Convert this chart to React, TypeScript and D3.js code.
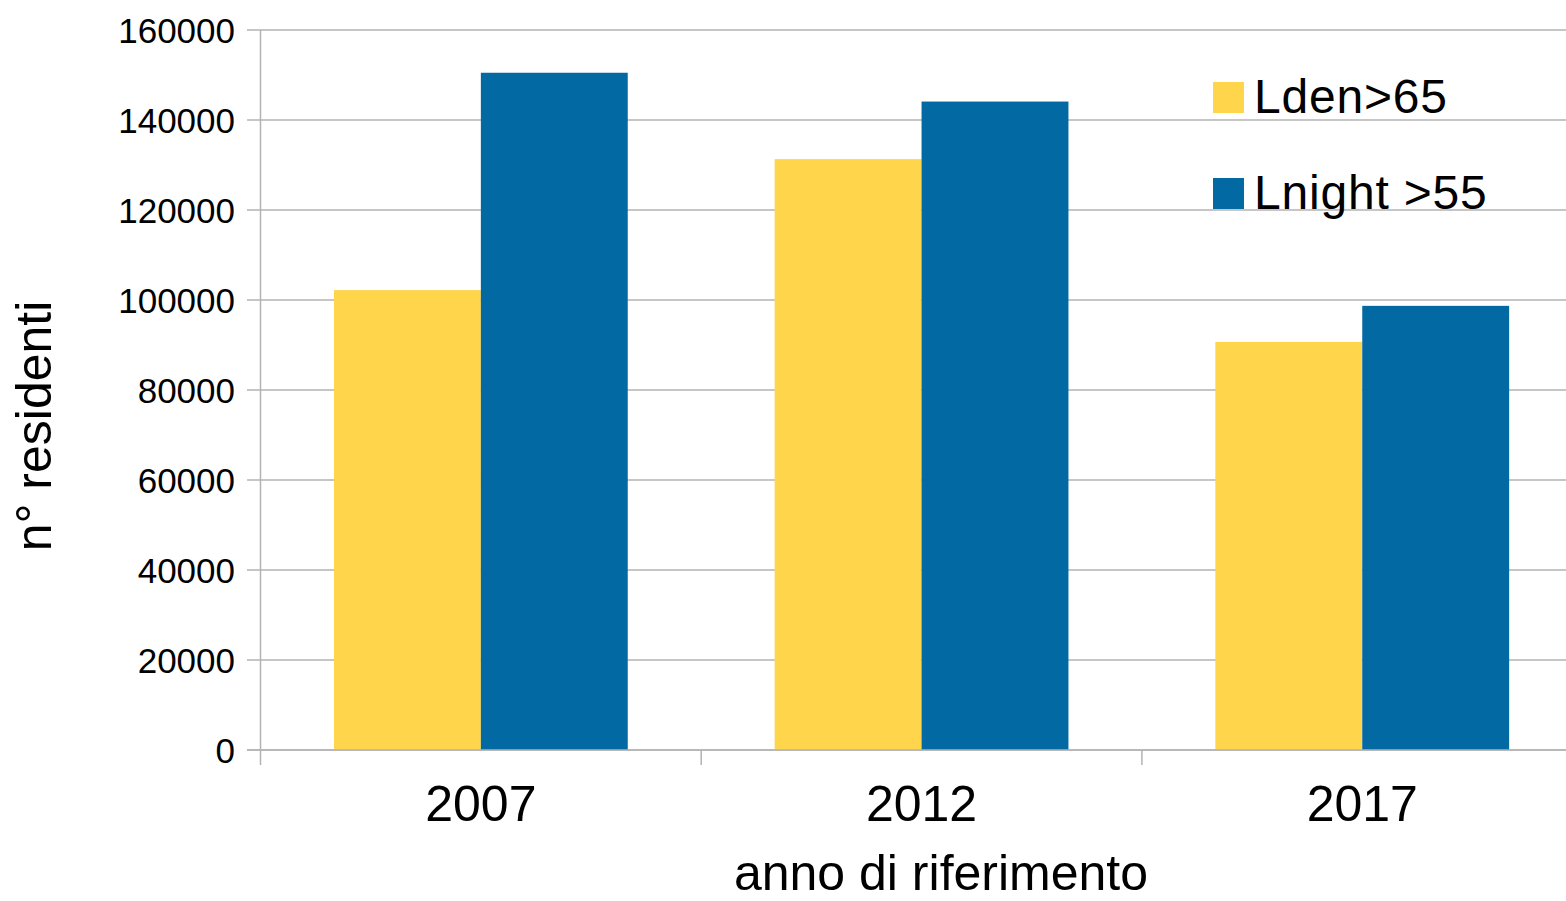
import React from "react";
import * as d3 from "d3";

const years = ["2007", "2012", "2017"];
const seriesNames = ["Lden>65", "Lnight >55"];
const ldenValues = [102200, 131300, 90700];
const lnightValues = [150500, 144100, 98700];
const yTicks = [0, 20000, 40000, 60000, 80000, 100000, 120000, 140000, 160000];
const seriesColors = ["#FFD54C", "#0369A3"];

const W = 1566;
const H = 901;
const plotLeft = 260.5;
const plotTop = 30;
const plotBottom = 750;
const bandW = 440.7;
const FONT = "'Liberation Sans', Arial, sans-serif";
const GRID = "#b3b3b3";

export default function App() {
  const x = d3
    .scaleBand<string>()
    .domain(years)
    .range([plotLeft, plotLeft + bandW * years.length])
    .paddingInner(0)
    .paddingOuter(0);
  const bw = x.bandwidth();
  const xs = d3
    .scaleBand<string>()
    .domain(seriesNames)
    .range([bw / 6, (bw * 5) / 6])
    .padding(0);
  const y = d3.scaleLinear().domain([0, 160000]).range([plotBottom, plotTop]);

  const series = [ldenValues, lnightValues];

  return (
    <svg
      width={W}
      height={H}
      style={{ position: "absolute", left: 0, top: 0, background: "#fff" }}
      fontFamily={FONT}
    >
      {/* horizontal gridlines with outer tick marks */}
      {yTicks.map((t) => (
        <line
          key={"g" + t}
          x1={247}
          x2={W}
          y1={y(t)}
          y2={y(t)}
          stroke={GRID}
          strokeWidth={1.5}
        />
      ))}
      {/* bars */}
      {series.map((vals, si) =>
        years.map((yr, i) => (
          <rect
            key={si + "-" + yr}
            x={(x(yr) as number) + (xs(seriesNames[si]) as number)}
            y={y(vals[i])}
            width={xs.bandwidth()}
            height={plotBottom - y(vals[i])}
            fill={seriesColors[si]}
          />
        ))
      )}
      {/* axes */}
      <line x1={plotLeft} x2={plotLeft} y1={plotTop} y2={765} stroke={GRID} strokeWidth={1.5} />
      <line x1={247} x2={W} y1={plotBottom} y2={plotBottom} stroke={GRID} strokeWidth={1.5} />
      {years.slice(1).map((yr) => (
        <line
          key={"ct" + yr}
          x1={x(yr) as number}
          x2={x(yr) as number}
          y1={plotBottom}
          y2={765}
          stroke={GRID}
          strokeWidth={1.5}
        />
      ))}
      {/* y tick labels */}
      {yTicks.map((t) => (
        <text
          key={"l" + t}
          x={235}
          y={y(t) + 12.5}
          textAnchor="end"
          fontSize={35}
          fill="#000"
        >
          {t}
        </text>
      ))}
      {/* category labels */}
      {years.map((yr) => (
        <text
          key={"c" + yr}
          x={(x(yr) as number) + bw / 2}
          y={821}
          textAnchor="middle"
          fontSize={50}
          fill="#000"
        >
          {yr}
        </text>
      ))}
      {/* axis titles */}
      <text x={941} y={890} textAnchor="middle" fontSize={50} fill="#000">
        anno di riferimento
      </text>
      <text
        transform="translate(51,426) rotate(-90)"
        textAnchor="middle"
        fontSize={50}
        fill="#000"
      >
        n° residenti
      </text>
      {/* legend */}
      {seriesNames.map((name, i) => (
        <g key={"lg" + name} transform={`translate(1213, ${82 + i * 96})`}>
          <rect x={0} y={0} width={31} height={31} fill={seriesColors[i]} />
          <text x={41} y={31} fontSize={48} fill="#000" letterSpacing={0.8}>
            {name}
          </text>
        </g>
      ))}
    </svg>
  );
}
